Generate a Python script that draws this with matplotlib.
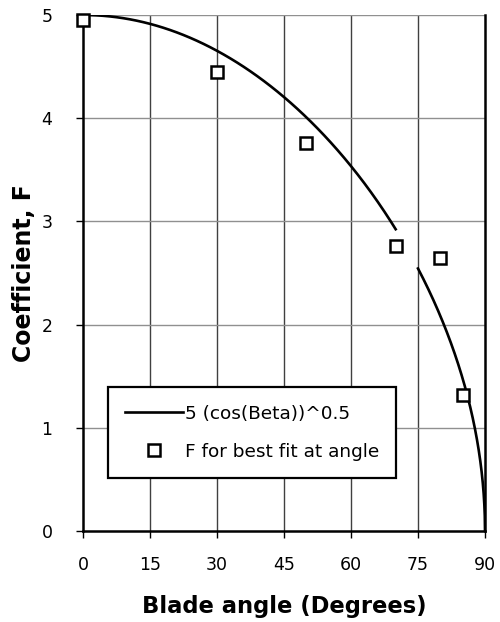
import numpy as np
import matplotlib.pyplot as plt

plt.rcParams["font.family"] = ["DejaVu Sans"]

# best-fit coefficient at each tested blade angle
angle_deg = [0, 30, 50, 70, 80, 85]
coef_fit = [4.95, 4.45, 3.76, 2.76, 2.645, 1.32]

# model curve 5 (cos(Beta))^0.5, drawn in two pieces (break between 70 and 75)
model_a = np.linspace(0, 70, 141)
model_b = np.linspace(75, 90, 301)
beta = np.concatenate([model_a, [72.5], model_b])
model = 5 * np.sqrt(np.clip(np.cos(np.radians(beta)), 0, None))
model[len(model_a)] = np.nan

x_ticks = [0, 15, 30, 45, 60, 75, 90]
y_ticks = [0, 1, 2, 3, 4, 5]

fig = plt.figure(figsize=(5.0, 6.22), dpi=100)
ax = fig.add_axes([0.166, 0.1463, 0.804, 0.8296])

for x in x_ticks[1:-1]:
    ax.axvline(x, color="#404040", lw=1.0, zorder=1)
for y in y_ticks[1:]:
    ax.axhline(y, color="#909090", lw=1.0, zorder=1)

ax.plot(beta, model, color="black", lw=1.9, zorder=3,
        label="5 (cos(Beta))^0.5")
ax.plot(angle_deg, coef_fit, ls="none", marker="s", ms=8.5, mfc="white",
        mec="black", mew=1.8, zorder=4, label="F for best fit at angle",
        clip_on=False)

ax.set_xlim(0, 90)
ax.set_ylim(0, 5)
ax.set_xticks(x_ticks)
ax.set_yticks(y_ticks)
ax.tick_params(direction="out", length=5, width=1, labelsize=12.5)
ax.tick_params(axis="x", pad=13)
ax.tick_params(axis="y", pad=17)

for side in ("left", "bottom", "right"):
    ax.spines[side].set_linewidth(1.8)
ax.spines["top"].set_visible(False)

ax.set_xlabel("Blade angle (Degrees)", fontsize=16.3, fontweight="bold",
              labelpad=15)
ax.set_ylabel("Coefficient, F", fontsize=17, fontweight="bold", labelpad=4)

leg = ax.legend(loc="lower left", bbox_to_anchor=(0.062, 0.102),
                fontsize=13.3, frameon=True, fancybox=False,
                borderpad=0.95, labelspacing=1.1, handlelength=3.1,
                handletextpad=0.1, borderaxespad=0)
leg.get_frame().set_edgecolor("black")
leg.get_frame().set_linewidth(1.6)
leg.get_frame().set_alpha(1)
leg.set_zorder(5)

fig.savefig("out.png", dpi=100)
